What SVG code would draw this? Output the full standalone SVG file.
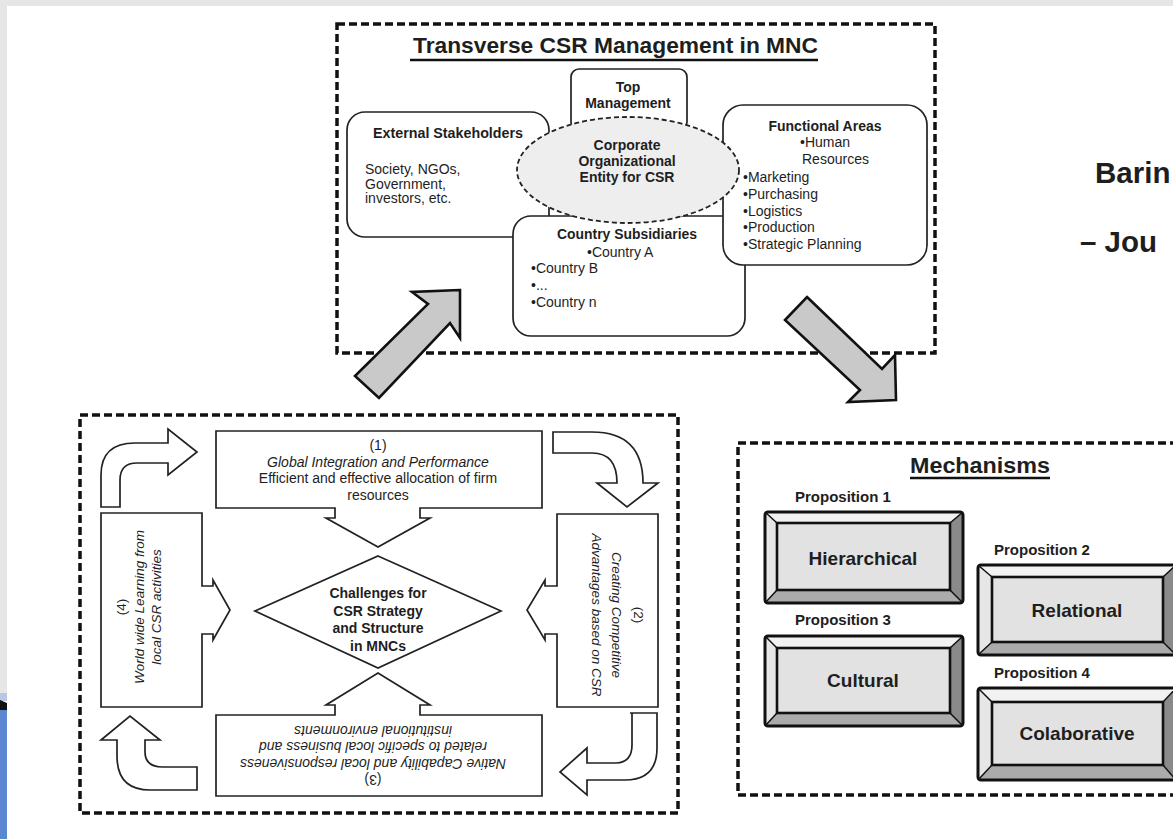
<svg xmlns="http://www.w3.org/2000/svg" width="1173" height="839" viewBox="0 0 1173 839">
<style>
.t{font-family:"Liberation Sans",Arial,sans-serif;fill:#1e1e1e}
.b{font-weight:bold}
.i{font-style:italic}
.m{text-anchor:middle}
.dash{fill:none;stroke:#111;stroke-width:3.5;stroke-dasharray:8 4}
.rbox{fill:#fff;stroke:#222;stroke-width:1.7}
.blk{fill:#fff;stroke:#222;stroke-width:1.7;stroke-linejoin:miter}
.gray{fill:#c9c9c9;stroke:#111;stroke-width:2.6;stroke-linejoin:miter}
.ul{stroke:#111;stroke-width:2.6}
.bt{fill:#f2f2f2}.bl{fill:#e6e6e6}.br{fill:#8a8a8a}.bb{fill:#ababab}
.bin{fill:#e2e2e2;stroke:#111;stroke-width:2.6}
.bout{fill:none;stroke:#111;stroke-width:3}
.bd{stroke:#111;stroke-width:1.5}
</style>
<rect x="0" y="0" width="1173" height="839" fill="#fff"/>
<rect x="0" y="0" width="1173" height="6" fill="#e6e6e6"/>
<rect x="0" y="0" width="7" height="695" fill="#e6e6e6"/>
<rect x="0" y="693" width="7" height="8" fill="#b9c8e2"/>
<polygon points="0,700 7,703 7,713 0,710" fill="#111"/>
<rect x="0" y="710" width="7" height="129" fill="#5b87d2"/>

<!-- Top frame -->
<g id="frame-top">
<rect class="dash" x="337" y="24" width="598" height="329"/>
<text class="t b" x="413" y="53" font-size="22" textLength="405" lengthAdjust="spacingAndGlyphs">Transverse CSR Management in MNC</text>
<line class="ul" x1="410" y1="60" x2="818" y2="60"/>
</g>
<g id="external-stakeholders">
<rect class="rbox" x="347" y="112" width="202" height="125" rx="18"/>
<text class="t b m" x="448" y="138" font-size="14" textLength="150" lengthAdjust="spacingAndGlyphs">External Stakeholders</text>
<text class="t" x="365" y="174" font-size="14">Society, NGOs,</text>
<text class="t" x="365" y="189" font-size="14">Government,</text>
<text class="t" x="365" y="203" font-size="14">investors, etc.</text>
</g>
<g id="top-management">
<rect class="rbox" x="571" y="69" width="116" height="61" rx="8"/>
<text class="t b m" x="628" y="92" font-size="14">Top</text>
<text class="t b m" x="628" y="108" font-size="14">Management</text>
</g>
<g id="country-subsidiaries">
<rect class="rbox" x="513" y="216" width="232" height="120" rx="18"/>
<text class="t b m" x="627" y="239" font-size="14" textLength="140" lengthAdjust="spacingAndGlyphs">Country Subsidiaries</text>
<text class="t" x="587" y="257" font-size="14">•Country A</text>
<text class="t" x="531" y="273" font-size="14">•Country B</text>
<text class="t" x="531" y="290" font-size="14">•...</text>
<text class="t" x="531" y="307" font-size="14">•Country n</text>
</g>
<g id="functional-areas">
<rect class="rbox" x="723" y="105" width="204" height="160" rx="20"/>
<text class="t b m" x="825" y="131" font-size="14">Functional Areas</text>
<text class="t" x="800" y="147" font-size="14">•Human</text>
<text class="t" x="802" y="164" font-size="14">Resources</text>
<text class="t" x="743" y="182" font-size="14">•Marketing</text>
<text class="t" x="743" y="199" font-size="14">•Purchasing</text>
<text class="t" x="743" y="216" font-size="14">•Logistics</text>
<text class="t" x="743" y="232" font-size="14">•Production</text>
<text class="t" x="743" y="249" font-size="14">•Strategic Planning</text>
</g>
<g id="corporate-entity">
<ellipse cx="628" cy="170" rx="111" ry="53" fill="#eeeeee" stroke="#222" stroke-width="1.8" stroke-dasharray="5 3"/>
<text class="t b m" x="627" y="150" font-size="14">Corporate</text>
<text class="t b m" x="627" y="166" font-size="14">Organizational</text>
<text class="t b m" x="627" y="182" font-size="14">Entity for CSR</text>
</g>

<!-- Bottom-left frame -->
<g id="frame-challenges">
<rect class="dash" x="80" y="415" width="598" height="398"/>
</g>
<g id="box-1">
<path class="blk" d="M216,431 H542 V508 H420 V518 H430 L378,547 L326,518 H335 V508 H216 Z"/>
<text class="t m" x="378" y="450" font-size="14">(1)</text>
<text class="t i m" x="378" y="467" font-size="14">Global Integration and Performance</text>
<text class="t m" x="378" y="483" font-size="14">Efficient and effective allocation of firm</text>
<text class="t m" x="378" y="500" font-size="14">resources</text>
</g>
<g id="box-2">
<path class="blk" d="M557,514 H658 V707 H557 V634 H545 V640 L527,610 L545,580 V586 H557 Z"/>
<g transform="translate(616,615) rotate(90)">
<text class="t m" x="0" y="-17.5" font-size="13.5">(2)</text>
<text class="t i m" x="0" y="4.5" font-size="13.5">Creating Competitive</text>
<text class="t i m" x="0" y="24.5" font-size="13.5">Advantages based on CSR</text>
</g>
</g>
<g id="box-3">
<path class="blk" d="M216,796 H542 V715 H420 V705 H430 L378,673 L326,705 H335 V715 H216 Z"/>
<g transform="rotate(180,373,756)">
<text class="t m" x="373" y="737" font-size="14">(3)</text>
<text class="t i m" x="373" y="753.5" font-size="14">Native Capability and local responsiveness</text>
<text class="t i m" x="373" y="770" font-size="14">related to specific local business and</text>
<text class="t i m" x="373" y="786.5" font-size="14">institutional environments</text>
</g>
</g>
<g id="box-4">
<path class="blk" d="M101,513 H202 V586 H213 V580 L230,610 L213,640 V634 H202 V707 H101 Z"/>
<g transform="translate(140,607) rotate(-90)">
<text class="t m" x="0" y="-14" font-size="13.5">(4)</text>
<text class="t i m" x="0" y="3.5" font-size="13.5">World wide Learning from</text>
<text class="t i m" x="0" y="21" font-size="13.5">local CSR activities</text>
</g>
</g>
<g id="challenges">
<path class="blk" d="M378,556 L501,611 L378,668 L255,611 Z"/>
<text class="t b m" x="378" y="598" font-size="14">Challenges for</text>
<text class="t b m" x="378" y="616" font-size="14">CSR Strategy</text>
<text class="t b m" x="378" y="633" font-size="14">and Structure</text>
<text class="t b m" x="378" y="651" font-size="14">in MNCs</text>
</g>

<!-- Mechanisms frame -->
<g id="frame-mechanisms">
<rect class="dash" x="738" y="443" width="470" height="352"/>
<text class="t b" x="910" y="473" font-size="22" textLength="140" lengthAdjust="spacingAndGlyphs">Mechanisms</text>
<line class="ul" x1="910" y1="478" x2="1050" y2="478"/>
</g>
<g id="hierarchical">
<text class="t b" x="795" y="502" font-size="15">Proposition 1</text>
<polygon class="bt" points="765,512 963,512 950,523 777,523"/>
<polygon class="bl" points="765,512 777,523 777,590 765,603"/>
<polygon class="br" points="963,512 963,603 950,590 950,523"/>
<polygon class="bb" points="765,603 963,603 950,590 777,590"/>
<line class="bd" x1="765" y1="512" x2="777" y2="523"/><line class="bd" x1="963" y1="512" x2="950" y2="523"/>
<line class="bd" x1="765" y1="603" x2="777" y2="590"/><line class="bd" x1="963" y1="603" x2="950" y2="590"/>
<rect class="bin" x="777" y="523" width="173" height="67"/>
<rect class="bout" x="765" y="512" width="198" height="91" rx="3"/>
<text class="t b m" x="863" y="565" font-size="19">Hierarchical</text>
</g>
<g id="cultural">
<text class="t b" x="795" y="625" font-size="15">Proposition 3</text>
<polygon class="bt" points="765,636 963,636 950,648 777,648"/>
<polygon class="bl" points="765,636 777,648 777,713 765,726"/>
<polygon class="br" points="963,636 963,726 950,713 950,648"/>
<polygon class="bb" points="765,726 963,726 950,713 777,713"/>
<line class="bd" x1="765" y1="636" x2="777" y2="648"/><line class="bd" x1="963" y1="636" x2="950" y2="648"/>
<line class="bd" x1="765" y1="726" x2="777" y2="713"/><line class="bd" x1="963" y1="726" x2="950" y2="713"/>
<rect class="bin" x="777" y="648" width="173" height="65"/>
<rect class="bout" x="765" y="636" width="198" height="90" rx="3"/>
<text class="t b m" x="863" y="687" font-size="19">Cultural</text>
</g>
<g id="relational">
<text class="t b" x="994" y="555" font-size="15">Proposition 2</text>
<polygon class="bt" points="978,565 1176,565 1163,577 992,577"/>
<polygon class="bl" points="978,565 992,577 992,642 978,655"/>
<polygon class="br" points="1176,565 1176,655 1163,642 1163,577"/>
<polygon class="bb" points="978,655 1176,655 1163,642 992,642"/>
<line class="bd" x1="978" y1="565" x2="992" y2="577"/><line class="bd" x1="1176" y1="565" x2="1163" y2="577"/>
<line class="bd" x1="978" y1="655" x2="992" y2="642"/><line class="bd" x1="1176" y1="655" x2="1163" y2="642"/>
<rect class="bin" x="992" y="577" width="171" height="65"/>
<rect class="bout" x="978" y="565" width="198" height="90" rx="3"/>
<text class="t b m" x="1077" y="617" font-size="19">Relational</text>
</g>
<g id="colaborative">
<text class="t b" x="994" y="678" font-size="15">Proposition 4</text>
<polygon class="bt" points="978,688 1176,688 1163,702 992,702"/>
<polygon class="bl" points="978,688 992,702 992,765 978,780"/>
<polygon class="br" points="1176,688 1176,780 1163,765 1163,702"/>
<polygon class="bb" points="978,780 1176,780 1163,765 992,765"/>
<line class="bd" x1="978" y1="688" x2="992" y2="702"/><line class="bd" x1="1176" y1="688" x2="1163" y2="702"/>
<line class="bd" x1="978" y1="780" x2="992" y2="765"/><line class="bd" x1="1176" y1="780" x2="1163" y2="765"/>
<rect class="bin" x="992" y="702" width="171" height="63"/>
<rect class="bout" x="978" y="688" width="198" height="92" rx="3"/>
<text class="t b m" x="1077" y="740" font-size="19">Colaborative</text>
</g>

<g id="citation">
<text class="t b" x="1095" y="183" font-size="29.5" fill="#111">Barin</text>
<text class="t b" x="1080" y="252" font-size="29.5" fill="#111">– Jou</text>
</g>

<!-- Connectors -->
<g id="connectors">
<path class="gray" d="M460,290 L412,292 L428,304 L355,376 L379,398 L450,323 L460,338 Z"/>
<path class="gray" d="M807,297 L882,369 L895,355 L896,400 L848,402 L860,390 L785,320 Z"/>
<path class="blk" d="M101,507 L101,475 Q101,443 135,443 L168,443 L168,429 L197,452 L168,475 L168,463 L137,463 Q120,463 120,480 L120,507 Z"/>
<path class="blk" d="M553,432 H592 Q643,432 643,483 H658 L627,507 L597,483 H617 Q617,453 592,453 H553 Z"/>
<path class="blk" d="M630,713 H657 V748 Q657,780 625,780 H587 V795 L560,772 L587,748 V763 H615 Q632,763 632,745 V713 Z"/>
<path class="blk" d="M101,740 L130,716 L160,740 H145 V752 Q145,767 163,767 H197 V790 H150 Q117,790 117,756 V740 Z"/>
</g>
</svg>
